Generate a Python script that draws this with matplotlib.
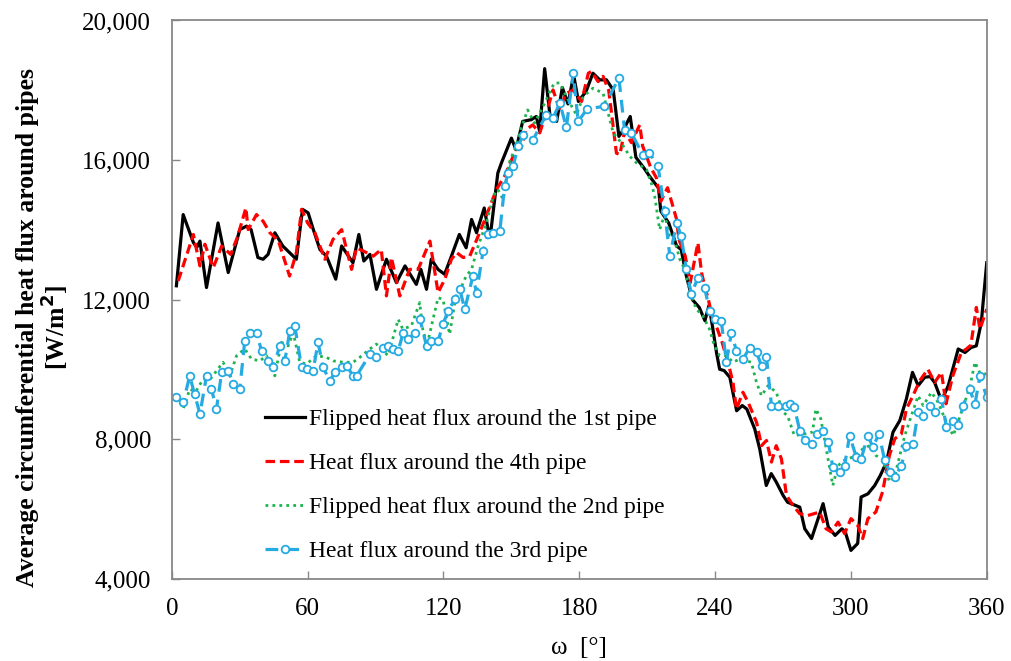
import matplotlib.pyplot as plt
from matplotlib.ticker import FuncFormatter

plt.rcParams['font.family'] = ['Liberation Serif', 'DejaVu Serif']

# Flipped heat flux around the 1st pipe
pipe1_deg = [2, 5, 9.5, 11, 12.4, 15.3, 20.4, 24.9, 30, 33, 35, 38, 40.3, 42.5, 45.5, 49, 55,
             57.7, 60.2, 62.5, 65.4, 68.3, 72.4, 75, 80, 82.6, 84.8, 87.5, 90.4, 94.8, 99.2,
             103, 108, 110, 112.5, 114.6, 117.6, 120.5, 123.5, 127, 130, 132.4, 134.6, 138,
             139.7, 141, 144, 145.6, 150, 152, 155, 158.8, 161, 162.5, 164.7, 167, 170, 172.5,
             175, 177.5, 179.6, 183, 186, 189, 192, 195, 197.5, 199.5, 202.5, 205, 208.5, 211,
             215, 216, 219.5, 223, 225, 227.3, 230, 233, 235.5, 237.3, 238.8, 240.6, 242, 244,
             246.5, 249.5, 252, 254, 257.5, 259.7, 262.6, 264.8, 267, 270, 272, 277.4, 279.6,
             282.6, 287.7, 290, 293, 296, 297.5, 300, 303, 304.5, 307.5, 310.5, 313, 315.7,
             318.6, 321.6, 324.5, 327.2, 329.7, 332.6, 335, 337, 340, 343, 347.4, 350.4, 353,
             355.4, 357.6, 360]
pipe1_q = [12400, 14440, 13640, 13500, 13680, 12350, 14200, 12780, 14010, 14110, 14010, 13210,
           13160, 13300, 13920, 13540, 13160, 14590, 14490, 14010, 13440, 13250, 12590, 13540,
           13060, 13870, 13110, 13300, 12300, 13160, 12490, 12970, 12440, 12870, 12300, 13160,
           12870, 12730, 13250, 13870, 13490, 14300, 13920, 14630, 14010, 14000, 15630, 15920,
           16630, 16300, 17110, 17160, 17250, 16820, 18620, 17300, 17110, 18080, 17610, 18440,
           17680, 17970, 18490, 18300, 18300, 18010, 16680, 16870, 17250, 16080, 15780, 15540,
           15200, 14540, 14200, 13540, 13440, 12680, 12000, 11780, 11400, 11840, 11250, 10490,
           10010, 9970, 9780, 8820, 8970, 8870, 8300, 7730, 6680, 7020, 6780, 6400, 6200, 6060,
           5440, 5160, 6160, 5490, 5250, 5440, 5350, 4820, 5020, 6350, 6440, 6680, 6970, 7350,
           8210, 8540, 9160, 9920, 9540, 9780, 9800, 9630, 9110, 9540, 10590, 10490, 10630,
           10680, 11350, 13060]

# Heat flux around the 4th pipe
pipe4_deg = [2.8, 9.5, 12.4, 14.6, 18.3, 22, 26, 29, 32.7, 33.7, 37.4, 40.3, 43.3, 47, 52, 55,
             57.3, 60, 63.2, 67.6, 71.2, 75, 79.4, 81.6, 86, 89, 92.5, 94.8, 97, 100.7, 105,
             108.8, 114, 117.6, 120.6, 123.5, 125.8, 128.7, 131.6, 135.3, 138.3, 143.4, 147,
             152, 154.3, 156.5, 159.4, 162.5, 165.4, 168.4, 171.4, 174, 177.3, 181, 184, 185.4,
             188.3, 190.5, 193, 196.4, 197.9, 200, 203, 206.7, 208, 211.6, 214, 216, 219, 223,
             224, 226.8, 229, 232.4, 234, 235.4, 237, 239, 241, 243, 245.7, 247.9, 249.4,
             252.3, 254.6, 258.3, 260.5, 262.7, 264.9, 267, 269.3, 271.5, 274.4, 277.4, 281,
             286.2, 289, 291.3, 294.3, 297.2, 300, 303, 305.2, 307.5, 311, 314, 317, 319.4,
             322.3, 324.5, 327.4, 330.4, 334, 337, 340, 342, 345, 348.8, 351, 353, 355.4, 357,
             360]
pipe4_q = [12540, 13870, 12970, 13590, 12920, 13540, 13300, 13800, 14630, 14010, 14440, 14250,
           13920, 13700, 12680, 13350, 14590, 14200, 13920, 13160, 13730, 14010, 12870, 13490,
           13350, 13250, 13440, 12110, 13210, 12110, 12870, 12870, 13680, 12205, 12590, 13160,
           13350, 13210, 13250, 13820, 14300, 15160, 15540, 16300, 16350, 16870, 17010, 16780,
           17350, 18010, 17440, 17900, 18010, 17680, 18490, 18540, 18250, 18400, 18000, 16200,
           16160, 16820, 16500, 17010, 16400, 15780, 15500, 14820, 15210, 14300, 13730, 13250,
           12490, 13630, 12780, 12390, 12010, 11440, 11160, 10800, 10210, 9630, 8870, 9350, 9060,
           8490, 7820, 7970, 7350, 7820, 7440, 6400, 6110, 5870, 5820, 5920, 5440, 5350, 5630,
           5300, 5730, 5540, 5160, 5730, 5920, 6500, 7540, 8020, 8160, 8870, 9250, 9680, 10010,
           9630, 9920, 9020, 9820, 10490, 10590, 10700, 11780, 11160, 11730]

# Flipped heat flux around the 2nd pipe
pipe2_deg = [2.8, 5, 7.9, 10.5, 13.8, 17, 22.6, 25.6, 28.6, 32.2, 35.2, 38.9, 41.8, 45.5, 48.4,
             51.4, 53.6, 56.5, 59.5, 63.9, 68.3, 71.2, 75.7, 80.1, 83, 87.5, 90.4, 95.5, 100,
             102, 105.8, 109.5, 111, 113, 117.6, 119.8, 122.7, 125, 130, 132.4, 135.3, 139, 142,
             144, 146.4, 149, 152, 154.3, 157.2, 160.2, 164.7, 167, 169, 171.4, 175, 178.7,
             181.7, 186, 190.5, 195, 198.5, 202.3, 205.3, 209.7, 212, 213.3, 215.5, 217.7, 220,
             222, 224.4, 226.6, 229, 231.7, 234.6, 237.5, 239.7, 242, 245, 247.9, 250.8, 256,
             258.3, 260.5, 263.4, 267, 270, 272, 275, 279, 283, 284.5, 286.7, 292, 294.3, 297,
             301, 305.3, 308.3, 311, 314, 317, 319.4, 321.6, 323.8, 326.7, 329.7, 331.9, 335.6,
             338.5, 341.5, 345.2, 348.8, 352.5, 354.8, 357, 360]
pipe2_q = [9210, 8870, 9440, 9360, 9730, 9730, 10210, 9820, 10400, 10590, 10300, 10250, 10400,
           9820, 10780, 10680, 11060, 10210, 10160, 10400, 10350, 10250, 10210, 10210, 10350,
           10590, 10730, 10400, 11440, 11160, 11250, 11920, 11060, 10780, 12060, 12010, 11010,
           11920, 12680, 12870, 13540, 14210, 14970, 15160, 14870, 15920, 16400, 16920, 17440,
           17060, 17630, 17970, 18210, 18210, 17730, 17300, 17820, 18060, 17920, 16780, 16500,
           16110, 15920, 15730, 15300, 14970, 14010, 14440, 13820, 13730, 13160, 12870, 12200,
           11730, 11540, 11160, 10680, 10400, 10400, 10210, 10300, 10210, 9630, 9250, 9540, 9350,
           8780, 8680, 8110, 8150, 8210, 8870, 8590, 6680, 7250, 7400, 7500, 7730, 7820, 7540,
           7440, 6780, 6970, 7540, 8110, 8680, 9250, 8970, 9350, 9060, 8590, 8110, 8780, 9490,
           10210, 9900, 9870]

# Heat flux around the 3rd pipe
pipe3_deg = [2, 5, 7.9, 10, 12.4, 15.3, 17.5, 19.7, 22, 24.9, 27.1, 30, 32.2, 34.5, 37.4, 39.6,
             42.5, 44.7, 47.7, 49.9, 52.1, 54.3, 57.3, 59.5, 62.4, 64.6, 66.8, 69.8, 72, 75,
             77.2, 80.1, 81.6, 87.5, 90.4, 93.3, 95.5, 97.8, 100, 102.2, 104.4, 107.4, 109.6,
             112.5, 114.6, 117.6, 119.8, 122, 125, 127.2, 129.4, 133, 134.6, 137.5, 139.7, 142,
             144.9, 147, 148.5, 150.7, 153, 155.2, 159.6, 165.4, 168.4, 171.4, 174.3, 177.3,
             179.5, 183.5, 191, 197.5, 200, 203, 208, 211, 214.8, 217.7, 220, 223, 225, 227.3,
             229.5, 232.4, 235.4, 237.6, 239.8, 242.7, 245, 247.2, 249.4, 252.3, 255.3, 258.3,
             260.5, 262.7, 264.9, 267.8, 271.5, 273, 275, 277.4, 279.6, 282.6, 284.8, 287.7,
             290, 292, 295, 297.2, 299.4, 302.4, 304.5, 307.5, 309.7, 312.4, 314.9, 317.2,
             319.4, 322.3, 324.5, 327.4, 329.7, 331.9, 334.8, 337, 340, 342.2, 345.2, 347.4,
             349.6, 352.5, 354.8, 357, 360]
pipe3_q = [9210, 9060, 9820, 9300, 8730, 9820, 9440, 8870, 9920, 9970, 9590, 9440, 10820, 11060,
           11060, 10540, 10250, 10060, 10680, 10250, 11110, 11250, 10060, 10010, 9970, 10780,
           10060, 9680, 9920, 10060, 10110, 9820, 9820, 10440, 10350, 10630, 10680, 10590,
           10540, 11060, 10870, 11060, 11440, 10680, 10820, 10820, 11300, 11680, 12010, 12300,
           11730, 12680, 12200, 13400, 13870, 13920, 13970, 15250, 15630, 15820, 16400, 16730,
           16590, 17300, 17210, 17630, 16940, 18490, 17110, 17470, 17540, 18350, 16870, 16780,
           16160, 16200, 15820, 14540, 13250, 14210, 13820, 12870, 12160, 12630, 12330, 11680,
           11440, 11400, 10210, 11060, 10540, 10300, 10630, 10490, 10110, 10350, 8970, 8970,
           8970, 9010, 8920, 8250, 7970, 7870, 8160, 8250, 7920, 7210, 7060, 7250, 8110, 7490,
           7440, 8110, 7780, 8160, 7400, 7060, 6920, 7250, 7820, 7870, 8780, 8680, 8970, 8780,
           9160, 8350, 8540, 8400, 8970, 9440, 9010, 9820, 9210]

fig = plt.figure(figsize=(10.11, 6.61), dpi=100)
ax = fig.add_axes([0.170, 0.124, 0.806, 0.845])

ax.plot(pipe1_deg, pipe1_q, color='black', lw=2.3,
        label='Flipped heat flux around the 1st pipe')
ax.plot(pipe4_deg, pipe4_q, color='#ff0000', lw=2.3, ls=(0, (3, 1.5)),
        label='Heat flux around the 4th pipe')
ax.plot(pipe2_deg, pipe2_q, color='#1db34f', lw=2, ls=(0, (1, 1.5)),
        label='Flipped heat flux around the 2nd pipe')
ax.plot(pipe3_deg, pipe3_q, color='#25aae1', lw=2.3, ls=(0, (4, 2.5)),
        marker='o', ms=5.5, mfc='white', mew=1.3,
        label='Heat flux around the 3rd pipe')

ax.set_xlim(0, 360)
ax.set_ylim(4000, 20000)
ax.set_xticks(range(0, 361, 60))
ax.set_yticks(range(4000, 20001, 4000))
ax.yaxis.set_major_formatter(FuncFormatter(lambda v, p: f'{int(v):,}'))
ax.tick_params(direction='in', length=6, width=1, colors='#888888',
               labelcolor='black', labelsize=18)
ax.tick_params(axis='y', pad=15)
ax.tick_params(axis='x', pad=14)
for s in ax.spines.values():
    s.set_color('#888888')
    s.set_linewidth(1.3)

ax.set_xlabel('ω  [°]', fontsize=18, labelpad=12)
ax.set_ylabel('Average circumferential heat flux around pipes\n[W/m$^\\mathbf{2}$]',
              fontsize=18.5, fontweight='bold', linespacing=1.0)
ax.yaxis.set_label_coords(-0.125, 0.45)

ax.legend(loc='upper left', bbox_to_anchor=(0.103, 0.322), borderaxespad=0,
          frameon=False, fontsize=17, handlelength=1.7, labelspacing=0.95,
          handletextpad=0.15)

plt.savefig('out.png', dpi=100)
plt.close()
